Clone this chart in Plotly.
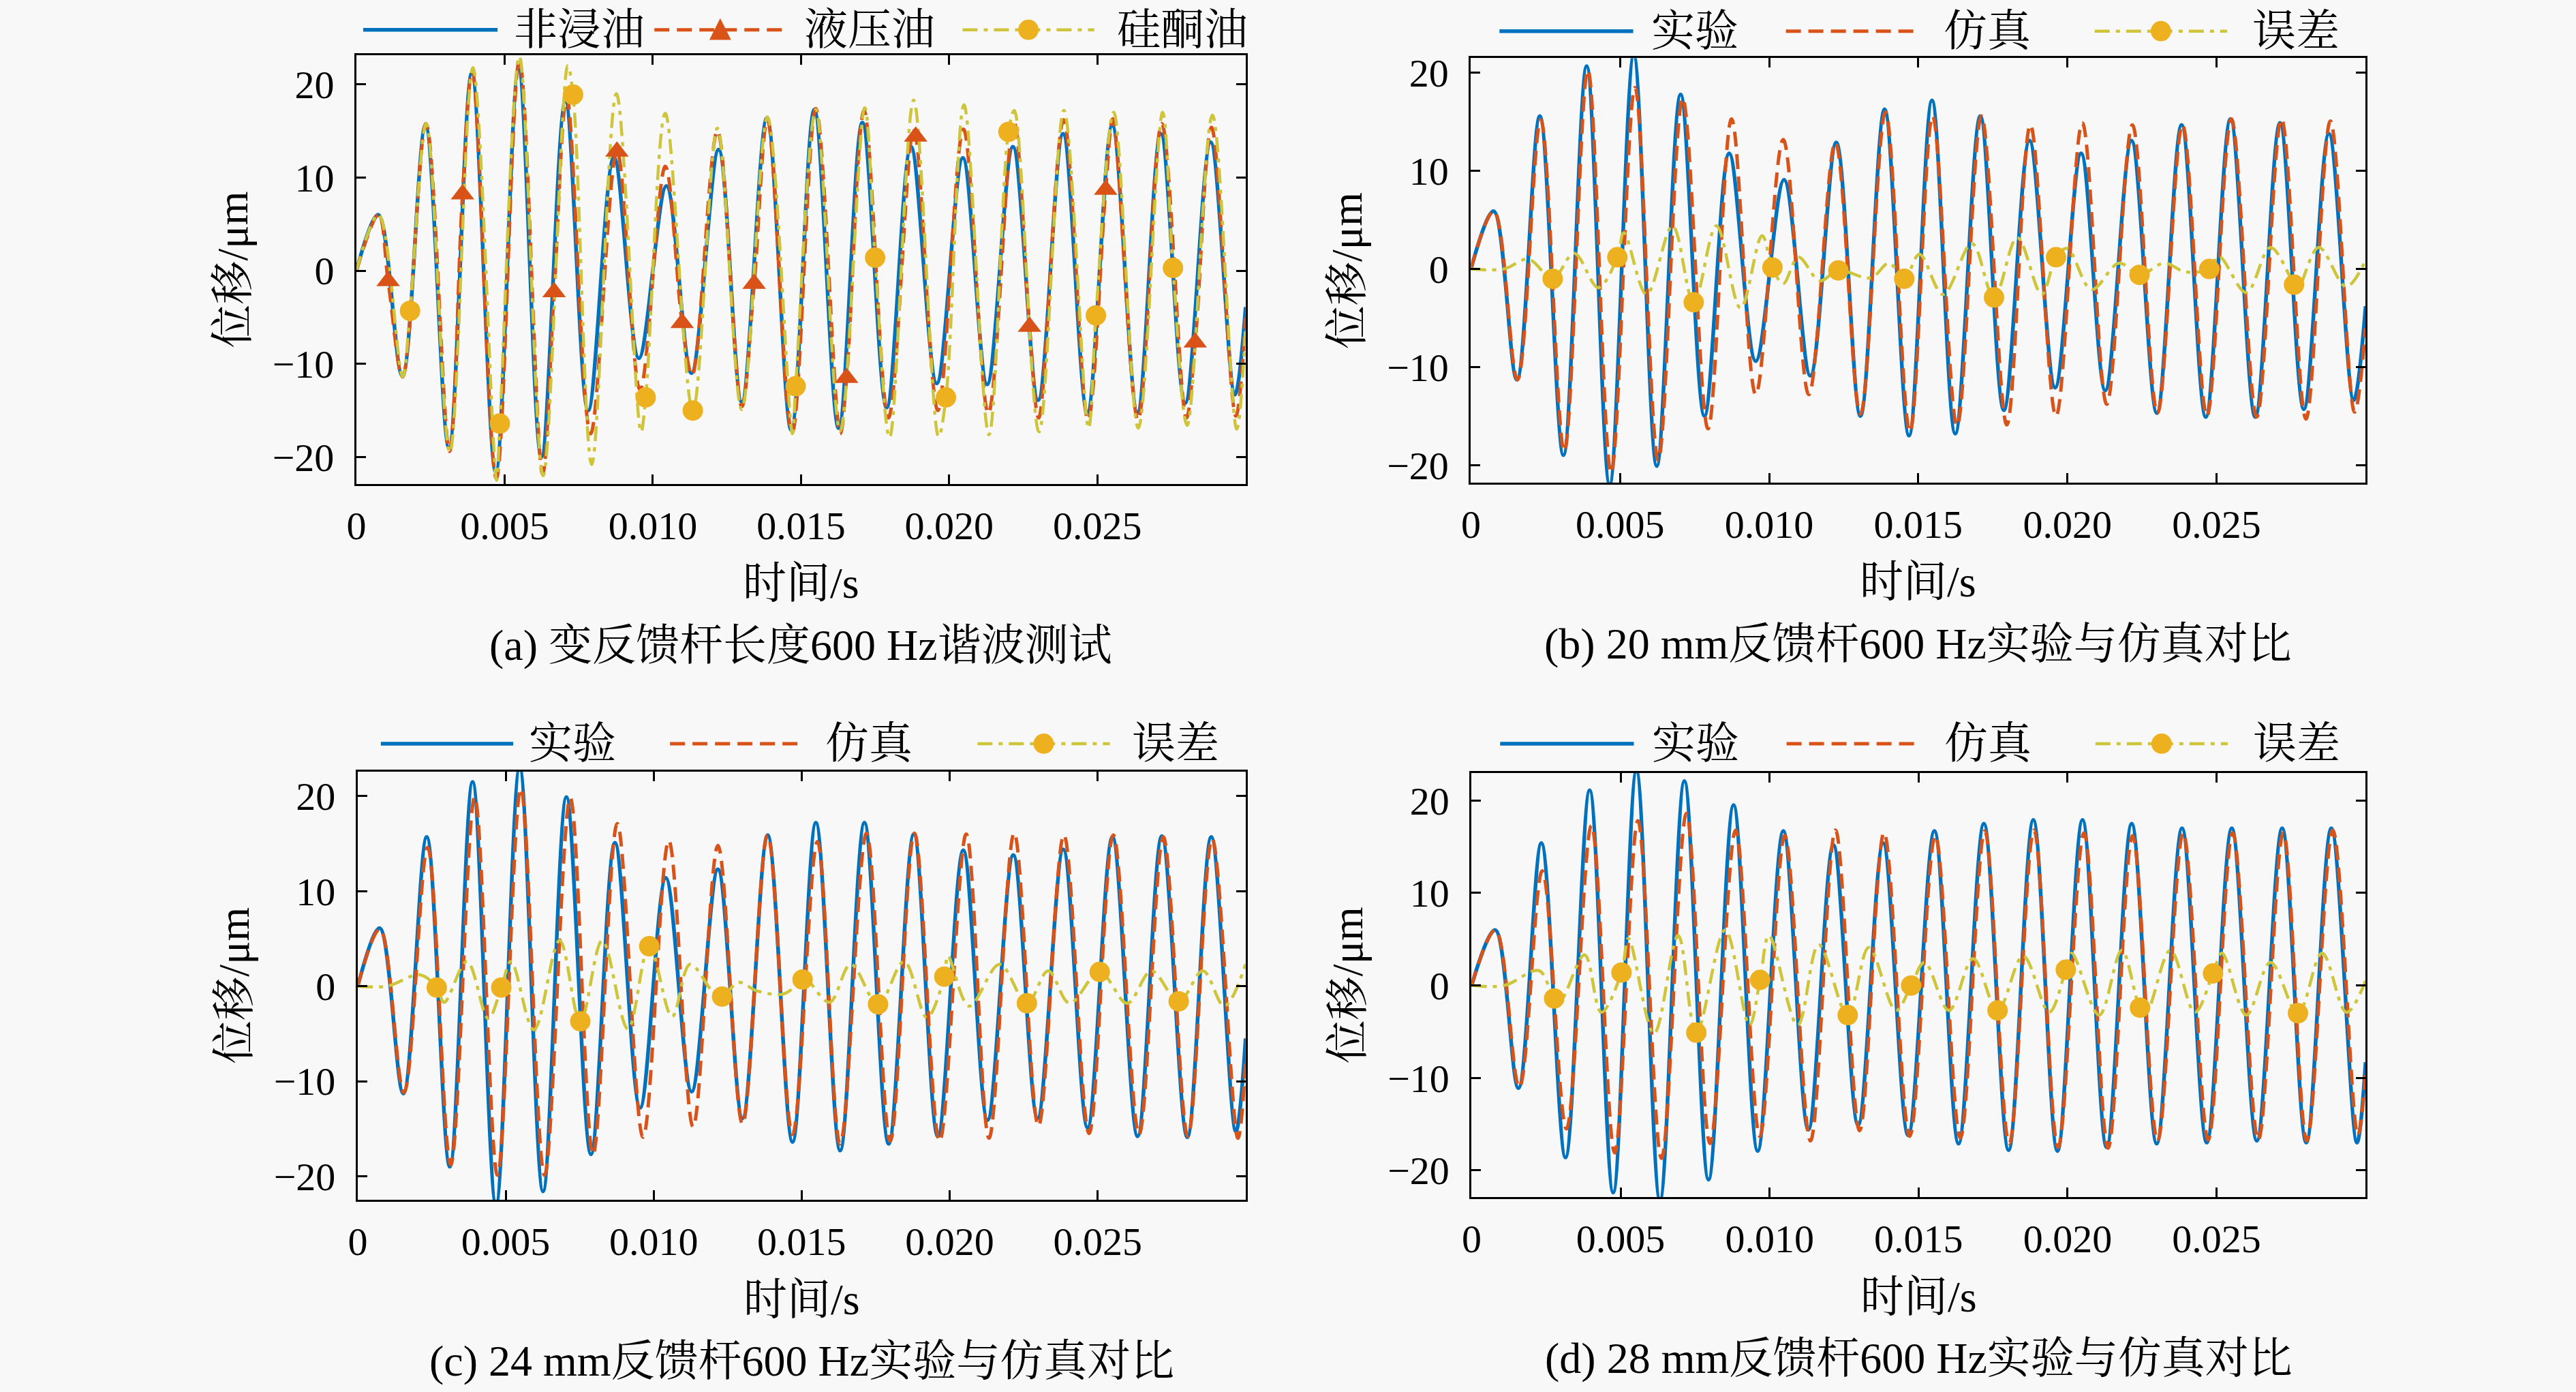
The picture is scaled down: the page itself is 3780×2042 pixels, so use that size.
import plotly.graph_objects as go
from plotly.subplots import make_subplots

# ---------------- (a) 变反馈杆长度600 Hz谐波测试 ----------------
# time in s, displacement in um (extremes)
a_dry_t = [0, 0.00074, 0.00155, 0.00233, 0.00312, 0.00389, 0.00470, 0.00547, 0.00624, 0.00705,
           0.00782, 0.00869, 0.00953, 0.01046, 0.01130, 0.01222, 0.01300, 0.01385, 0.01467, 0.01545,
           0.01627, 0.01707, 0.01789, 0.01871, 0.01958, 0.02046, 0.02128, 0.02215, 0.02300, 0.02384,
           0.02466, 0.02550, 0.02635, 0.02714, 0.02796, 0.02882, 0.02964, 0.03]
a_dry_y = [0, 6.0, -11.3, 15.6, -19.0, 21.2, -21.6, 21.6, -20.0, 18.2,
           -15.0, 12.2, -9.4, 9.1, -11.0, 13.0, -14.1, 16.4, -17.1, 17.3,
           -16.9, 15.9, -14.7, 13.3, -12.1, 12.1, -12.2, 13.3, -13.9, 14.7,
           -15.2, 15.6, -15.2, 14.7, -14.2, 13.8, -13.3, -3.9]

a_hyd_t = [0, 0.00075, 0.00156, 0.00235, 0.00314, 0.00391, 0.00472, 0.00550, 0.00628, 0.00710,
           0.00790, 0.00872, 0.00957, 0.01042, 0.01133, 0.01218, 0.01300, 0.01387, 0.01470, 0.01550,
           0.01632, 0.01713, 0.01795, 0.01878, 0.01962, 0.02048, 0.02132, 0.02218, 0.02302, 0.02386,
           0.02468, 0.02552, 0.02637, 0.02717, 0.02800, 0.02885, 0.02967, 0.03]
a_hyd_y = [0, 6.0, -11.4, 15.8, -19.4, 21.5, -22.3, 22.6, -21.8, 18.6,
           -17.5, 13.6, -12.8, 11.2, -11.2, 15.0, -14.6, 16.2, -17.4, 17.4,
           -17.5, 17.2, -15.8, 15.0, -15.0, 15.2, -15.3, 16.0, -15.8, 16.2,
           -16.0, 16.3, -16.0, 15.8, -15.8, 15.4, -15.6, -5.0]
a_hyd_mk_t = [0.00107, 0.00358, 0.00667, 0.00879, 0.01099, 0.01342, 0.01654, 0.01887, 0.02271, 0.02528, 0.02830]
a_hyd_mk_y = [-1.1, 8.2, -2.3, 12.8, -5.6, -1.4, -11.5, 14.4, -6.0, 8.7, -7.7]

a_sil_t = [0, 0.00075, 0.00156, 0.00236, 0.00315, 0.00393, 0.00473, 0.00550, 0.00630, 0.00713,
           0.00794, 0.00877, 0.00960, 0.01042, 0.01133, 0.01218, 0.01300, 0.01387, 0.01471, 0.01550,
           0.01632, 0.01715, 0.01799, 0.01880, 0.01964, 0.02050, 0.02134, 0.02220, 0.02303, 0.02387,
           0.02470, 0.02555, 0.02638, 0.02720, 0.02803, 0.02888, 0.02970, 0.03]
a_sil_y = [0, 6.0, -11.4, 15.8, -19.5, 21.8, -22.5, 23.0, -22.0, 22.0,
           -20.8, 19.0, -17.3, 16.9, -15.5, 15.3, -14.9, 16.5, -17.5, 17.3,
           -17.2, 17.5, -17.9, 18.3, -17.8, 17.8, -17.6, 17.2, -17.3, 17.2,
           -16.9, 17.0, -16.9, 17.0, -16.6, 16.7, -17.0, -6.0]
a_sil_mk_t = [0.00181, 0.00484, 0.00731, 0.00976, 0.01135, 0.01482, 0.01750, 0.01989, 0.02200, 0.02495, 0.02755]
a_sil_mk_y = [-4.3, -16.4, 18.9, -13.6, -15.0, -12.4, 1.4, -13.6, 14.9, -4.8, 0.3]

# ---------------- (b) 20 mm ----------------
b_exp_t = [0, 0.00076, 0.00154, 0.00231, 0.00310, 0.00388, 0.00465, 0.00546, 0.00623, 0.00703,
           0.00783, 0.00866, 0.00955, 0.01050, 0.01138, 0.01225, 0.01306, 0.01387, 0.01469, 0.01546,
           0.01624, 0.01708, 0.01787, 0.01873, 0.01959, 0.02046, 0.02127, 0.02215, 0.02300, 0.02383,
           0.02464, 0.02547, 0.02630, 0.02713, 0.02793, 0.02877, 0.02960, 0.03]
b_exp_y = [0, 5.9, -11.3, 15.6, -19.0, 20.7, -22.0, 21.8, -20.1, 17.8,
           -15.0, 11.8, -9.4, 9.1, -10.9, 12.9, -15.0, 16.3, -17.0, 17.2,
           -16.8, 15.6, -14.4, 13.1, -12.1, 11.8, -12.4, 13.1, -14.7, 14.7,
           -15.1, 15.3, -15.1, 14.9, -14.3, 13.8, -13.4, -3.8]
b_sim_t = [0, 0.00077, 0.00156, 0.00234, 0.00313, 0.00392, 0.00470, 0.00550, 0.00628, 0.00710,
           0.00795, 0.00874, 0.00955, 0.01047, 0.01133, 0.01222, 0.01306, 0.01390, 0.01472, 0.01548,
           0.01630, 0.01712, 0.01797, 0.01876, 0.01962, 0.02050, 0.02132, 0.02218, 0.02302, 0.02386,
           0.02468, 0.02550, 0.02635, 0.02718, 0.02800, 0.02882, 0.02963, 0.03]
b_sim_y = [0, 5.9, -11.3, 15.2, -18.6, 20.3, -20.8, 18.5, -19.5, 17.4,
           -16.3, 15.3, -12.8, 13.2, -12.8, 12.9, -14.8, 16.0, -16.6, 15.6,
           -16.0, 15.6, -15.9, 14.7, -15.0, 14.9, -13.8, 14.7, -14.7, 14.7,
           -15.0, 15.3, -15.1, 15.3, -15.3, 15.1, -14.6, -6.0]
b_err_t = [0, 0.00110, 0.00193, 0.00274, 0.00346, 0.00427, 0.00513, 0.00589, 0.00676, 0.00752,
           0.00823, 0.00904, 0.00976, 0.01047, 0.01098, 0.01169, 0.01230, 0.01341, 0.01402, 0.01453,
           0.01504, 0.01583, 0.01680, 0.01756, 0.01832, 0.01914, 0.02000, 0.02081, 0.02173, 0.02242,
           0.02325, 0.02396, 0.02508, 0.02600, 0.02681, 0.02772, 0.02843, 0.02935, 0.03]
b_err_y = [0, 0, 1.0, -1.2, 1.6, -1.9, 3.7, -2.6, 4.4, -3.5,
           4.4, -4.0, 3.4, -1.5, 1.2, -1.2, 0.9, -0.9, 0.6, -1.0,
           1.5, -2.6, 2.6, -2.9, 3.2, -2.6, 2.1, -2.1, 0.6, -0.6,
           0.6, -0.3, 1.3, -2.4, 2.2, -2.1, 2.2, -1.8, 0.9]
b_err_mk_t = [0.00274, 0.00491, 0.00747, 0.01011, 0.01232, 0.01453, 0.01754, 0.01962, 0.02242, 0.02476, 0.02760]
b_err_mk_y = [-1.0, 1.2, -3.4, 0.15, -0.15, -1.0, -2.9, 1.2, -0.6, 0.0, -1.6]

# ---------------- (c) 24 mm ----------------
c_exp_t = [0, 0.00074, 0.00154, 0.00233, 0.00311, 0.00388, 0.00467, 0.00547, 0.00626, 0.00705,
           0.00788, 0.00869, 0.00954, 0.01041, 0.01128, 0.01217, 0.01300, 0.01385, 0.01469, 0.01548,
           0.01630, 0.01712, 0.01794, 0.01879, 0.01960, 0.02046, 0.02128, 0.02215, 0.02297, 0.02384,
           0.02466, 0.02550, 0.02635, 0.02717, 0.02803, 0.02884, 0.02967, 0.03]
c_exp_y = [0, 6.1, -11.3, 15.7, -19.0, 21.5, -23.0, 23.0, -21.6, 19.9,
           -17.7, 15.1, -12.8, 11.4, -11.1, 12.3, -13.9, 15.9, -16.4, 17.2,
           -17.3, 17.2, -16.6, 16.0, -15.8, 14.3, -14.1, 13.8, -13.9, 14.4,
           -14.9, 15.7, -15.8, 15.8, -15.9, 15.7, -15.3, -5.5]
c_sim_t = [0, 0.00075, 0.00156, 0.00236, 0.00314, 0.00395, 0.00472, 0.00551, 0.00631, 0.00718,
           0.00795, 0.00877, 0.00964, 0.01051, 0.01133, 0.01217, 0.01300, 0.01385, 0.01469, 0.01553,
           0.01630, 0.01719, 0.01799, 0.01881, 0.01966, 0.02056, 0.02133, 0.02218, 0.02300, 0.02386,
           0.02471, 0.02553, 0.02640, 0.02722, 0.02805, 0.02887, 0.02974, 0.03]
c_sim_y = [0, 6.0, -11.2, 14.6, -18.8, 19.9, -19.9, 20.8, -19.9, 19.8,
           -17.7, 17.1, -15.9, 15.3, -14.8, 14.8, -14.5, 15.9, -15.6, 15.2,
           -16.6, 16.1, -16.3, 16.1, -16.3, 16.0, -16.0, 16.1, -14.7, 15.9,
           -15.5, 15.9, -15.6, 15.7, -15.8, 15.5, -16.0, -8.0]
c_err_t = [0, 0.00100, 0.00210, 0.00292, 0.00369, 0.00441, 0.00518, 0.00595, 0.00682, 0.00754,
           0.00826, 0.00913, 0.00985, 0.01062, 0.01123, 0.01205, 0.01287, 0.01349, 0.01440, 0.01512,
           0.01594, 0.01666, 0.01758, 0.01846, 0.01923, 0.01994, 0.02066, 0.02169, 0.02261, 0.02333,
           0.02405, 0.02507, 0.02600, 0.02682, 0.02774, 0.02856, 0.02928, 0.03]
c_err_y = [0, 0, 1.2, -1.7, 2.6, -3.4, 2.6, -4.6, 4.8, -3.9,
           4.8, -4.5, 4.2, -3.2, 2.3, -0.8, 0.4, -0.5, -0.8, 0.9,
           -1.7, 2.3, -1.9, 2.6, -3.3, 3.2, -2.1, 2.3, -1.8, 1.6,
           -1.8, 1.6, -1.8, 1.6, -1.8, 1.6, -2.1, 2.3]
c_err_mk_t = [0.00267, 0.00485, 0.00752, 0.00985, 0.01231, 0.01503, 0.01758, 0.01982, 0.02261, 0.02507, 0.02774]
c_err_mk_y = [-0.15, -0.15, -3.7, 4.2, -1.1, 0.7, -1.9, 1.0, -1.8, 1.5, -1.6]

# ---------------- (d) 28 mm ----------------
d_exp_t = [0, 0.00079, 0.00157, 0.00234, 0.00315, 0.00396, 0.00475, 0.00553, 0.00632, 0.00714,
           0.00795, 0.00879, 0.00960, 0.01046, 0.01130, 0.01214, 0.01297, 0.01381, 0.01465, 0.01553,
           0.01634, 0.01719, 0.01802, 0.01885, 0.01966, 0.02050, 0.02131, 0.02215, 0.02299, 0.02384,
           0.02467, 0.02551, 0.02635, 0.02720, 0.02801, 0.02885, 0.02971, 0.03]
d_exp_y = [0, 6.0, -11.1, 15.4, -18.6, 21.1, -22.4, 23.2, -23.2, 22.1,
           -21.0, 19.5, -17.9, 16.7, -15.6, 15.2, -15.1, 15.4, -16.2, 16.7,
           -17.1, 17.5, -17.8, 17.9, -17.9, 17.9, -17.5, 17.5, -17.1, 17.0,
           -17.0, 17.0, -16.8, 17.0, -17.0, 17.0, -17.0, -8.3]
d_sim_t = [0, 0.00080, 0.00160, 0.00237, 0.00318, 0.00402, 0.00480, 0.00558, 0.00637, 0.00721,
           0.00800, 0.00886, 0.00967, 0.01051, 0.01137, 0.01221, 0.01302, 0.01384, 0.01470, 0.01556,
           0.01640, 0.01722, 0.01804, 0.01887, 0.01968, 0.02055, 0.02136, 0.02218, 0.02302, 0.02388,
           0.02472, 0.02554, 0.02640, 0.02724, 0.02803, 0.02890, 0.02974, 0.03]
d_sim_y = [0, 6.0, -11.0, 12.4, -15.5, 17.3, -18.1, 17.8, -18.7, 18.6,
           -17.1, 16.8, -16.3, 16.2, -16.8, 16.8, -15.7, 16.5, -16.3, 16.2,
           -16.5, 16.7, -17.1, 16.8, -17.5, 16.5, -17.6, 16.2, -16.8, 16.5,
           -16.7, 16.5, -16.7, 16.5, -16.8, 16.8, -16.2, -9.5]
d_err_t = [0, 0.00110, 0.00226, 0.00297, 0.00379, 0.00435, 0.00526, 0.00612, 0.00693, 0.00760,
           0.00851, 0.00932, 0.00998, 0.01094, 0.01165, 0.01257, 0.01333, 0.01424, 0.01520, 0.01602,
           0.01683, 0.01765, 0.01851, 0.01938, 0.02014, 0.02106, 0.02182, 0.02264, 0.02345, 0.02427,
           0.02518, 0.02600, 0.02681, 0.02773, 0.02854, 0.02936, 0.03]
d_err_y = [0, 0, 1.6, -1.7, 3.3, -2.9, 5.1, -5.2, 5.4, -5.3,
           6.0, -4.3, 5.4, -4.3, 4.4, -3.5, 4.1, -2.7, 2.5, -2.7,
           2.9, -2.8, 3.2, -2.9, 3.5, -3.2, 3.8, -2.9, 3.8, -2.9,
           3.5, -3.2, 2.5, -3.0, 3.5, -2.9, 0.5]
d_err_mk_t = [0.00277, 0.00503, 0.00754, 0.00968, 0.01262, 0.01475, 0.01765, 0.01994, 0.02243, 0.02488, 0.02773]
d_err_mk_y = [-1.4, 1.4, -5.1, 0.6, -3.2, 0.0, -2.7, 1.7, -2.4, 1.3, -3.0]

x_tickvals = [0, 0.005, 0.010, 0.015, 0.020, 0.025]
x_ticktext = ['0', '0.005', '0.010', '0.015', '0.020', '0.025']
y_tickvals = [-20, -10, 0, 10, 20]

panel_titles = ['(a) 变反馈杆长度600 Hz谐波测试', '(b) 20 mm反馈杆600 Hz实验与仿真对比',
                '(c) 24 mm反馈杆600 Hz实验与仿真对比', '(d) 28 mm反馈杆600 Hz实验与仿真对比']
legend_a = ['非浸油', '液压油', '硅酮油']
legend_bcd = ['实验', '仿真', '误差']

W, H = 3780, 2042
SERIF = 'Liberation Serif, Noto Serif CJK SC, Noto Sans CJK SC, serif'
BLUE, RED, YEL, YEL_MK = '#0072BD', '#D95319', '#CFC53A', '#EDB120'
DASH = '22px,11px'
DASHDOT = '22px,9px,6px,9px'


def with_markers(t, y, mt, my):
    # put the marker points on the curve, dropping line points that sit on top of them
    pts = [(a, b) for a, b in zip(t, y) if all(abs(a - m) > 8e-5 for m in mt)]
    pts += list(zip(mt, my))
    pts.sort()
    return [p[0] for p in pts], [p[1] for p in pts]


fig = make_subplots(rows=2, cols=2)


def add_line(row, col, t, y, color, width, dash='solid'):
    fig.add_trace(go.Scatter(x=t, y=y, mode='lines', showlegend=False, hoverinfo='skip',
                             line=dict(color=color, width=width, dash=dash, shape='spline', smoothing=1.0)),
                  row=row, col=col)


def add_marks(row, col, t, y, color, symbol):
    fig.add_trace(go.Scatter(x=t, y=y, mode='markers', showlegend=False, hoverinfo='skip',
                             marker=dict(color=color, size=30, symbol=symbol, line=dict(width=0))),
                  row=row, col=col)


# (a)
add_line(1, 1, a_dry_t, a_dry_y, BLUE, 5.5)
t, y = with_markers(a_hyd_t, a_hyd_y, a_hyd_mk_t, a_hyd_mk_y)
add_line(1, 1, t, y, RED, 5, DASH)
t, y = with_markers(a_sil_t, a_sil_y, a_sil_mk_t, a_sil_mk_y)
add_line(1, 1, t, y, YEL, 4.5, DASHDOT)
add_marks(1, 1, a_hyd_mk_t, a_hyd_mk_y, RED, 'triangle-up')
add_marks(1, 1, a_sil_mk_t, a_sil_mk_y, YEL_MK, 'circle')

# (b), (c), (d)
for (row, col), et, ey, st, sy, rt, ry, mt, my in [
        ((1, 2), b_exp_t, b_exp_y, b_sim_t, b_sim_y, b_err_t, b_err_y, b_err_mk_t, b_err_mk_y),
        ((2, 1), c_exp_t, c_exp_y, c_sim_t, c_sim_y, c_err_t, c_err_y, c_err_mk_t, c_err_mk_y),
        ((2, 2), d_exp_t, d_exp_y, d_sim_t, d_sim_y, d_err_t, d_err_y, d_err_mk_t, d_err_mk_y)]:
    add_line(row, col, et, ey, BLUE, 5.5)
    add_line(row, col, st, sy, RED, 5, DASH)
    t, y = with_markers(rt, ry, mt, my)
    add_line(row, col, t, y, YEL, 4.5, DASHDOT)
    add_marks(row, col, mt, my, YEL_MK, 'circle')

# panel boxes in pixels: left, right, top, bottom, y range
panels = [
    (510, 1820, 72, 706, [-22.9, 23.1]),
    (2152, 3470, 76, 704, [-21.8, 21.5]),
    (512, 1820, 1131, 1765, [-22.5, 22.6]),
    (2153, 3470, 1133, 1761, [-22.9, 23.0]),
]

axis_style = dict(showline=True, linecolor='black', linewidth=3, mirror='ticks',
                  ticks='inside', ticklen=14, tickwidth=3, tickcolor='black',
                  showgrid=False, zeroline=False,
                  tickfont=dict(family=SERIF, size=58, color='black'))

layout_axes = {}
for i, (l, r, tp, bt, yr) in enumerate(panels):
    n = '' if i == 0 else str(i + 1)
    layout_axes['xaxis' + n] = dict(axis_style, domain=[l / W, r / W], range=[0, 0.03],
                                    tickvals=x_tickvals, ticktext=x_ticktext, ticklabelstandoff=8)
    layout_axes['yaxis' + n] = dict(axis_style, domain=[1 - bt / H, 1 - tp / H], range=yr,
                                    tickvals=y_tickvals, ticklabelstandoff=18)
fig.update_layout(**layout_axes)

annotations = []
shapes = []


def text(x, y, s, angle=0, anchor='center'):
    annotations.append(dict(x=x / W, y=1 - y / H, xref='paper', yref='paper', text=s, showarrow=False,
                            xanchor=anchor, yanchor='middle', textangle=angle,
                            font=dict(family=SERIF, size=64, color='black')))


for i, (l, r, tp, bt, yr) in enumerate(panels):
    cx = (l + r) / 2
    text(cx, bt + 147, '时间/s')
    text(cx, bt + 238, panel_titles[i])
    text(l - 182, (tp + bt) / 2, '位移/μm', angle=-90)

# legends drawn above each panel: (line x0, line x1, text x) in pixels, y centre
legend_rows = [
    (34, legend_a, [(520, 718, 740), (949, 1143, 1168), (1403, 1597, 1628)]),
    (36, legend_bcd, [(2194, 2391, 2416), (2616, 2811, 2846), (3071, 3266, 3301)]),
    (1090, legend_bcd, [(546, 741, 762), (972, 1167, 1199), (1425, 1620, 1651)]),
    (1090, legend_bcd, [(2195, 2392, 2417), (2617, 2812, 2847), (3072, 3267, 3302)]),
]
styles = [(BLUE, 5.5, 'solid'), (RED, 5, DASH), (YEL, 4.5, DASHDOT)]

for k, (ly, labels, items) in enumerate(legend_rows):
    for j, (x0, x1, tx) in enumerate(items):
        color, width, dash = styles[j]
        shapes.append(dict(type='line', xref='paper', yref='paper', x0=x0 / W, x1=x1 / W,
                           y0=1 - ly / H, y1=1 - ly / H, line=dict(color=color, width=width, dash=dash)))
        text(tx, ly, labels[j], anchor='left')
        mx = (x0 + x1) / 2
        if j == 2:
            shapes.append(dict(type='circle', xref='paper', yref='paper',
                               x0=(mx - 15) / W, x1=(mx + 15) / W, y0=1 - (ly + 15) / H, y1=1 - (ly - 15) / H,
                               fillcolor=YEL_MK, line=dict(width=0)))
        elif j == 1 and k == 0:
            path = 'M {:.5f},{:.5f} L {:.5f},{:.5f} L {:.5f},{:.5f} Z'.format(
                (mx - 16) / W, 1 - (ly + 15) / H, (mx + 16) / W, 1 - (ly + 15) / H, mx / W, 1 - (ly - 17) / H)
            shapes.append(dict(type='path', xref='paper', yref='paper', path=path,
                               fillcolor=RED, line=dict(width=0)))

fig.update_layout(
    width=W, height=H, autosize=False,
    margin=dict(l=0, r=0, t=0, b=0),
    paper_bgcolor='#F8F8F8', plot_bgcolor='#F8F8F8',
    font=dict(family=SERIF, color='black'),
    annotations=annotations, shapes=shapes,
)

# no default page margin so the figure sits at the window origin
fig.write_html("out.html", config={'displayModeBar': False},
               post_script="document.body.style.margin='0';")
